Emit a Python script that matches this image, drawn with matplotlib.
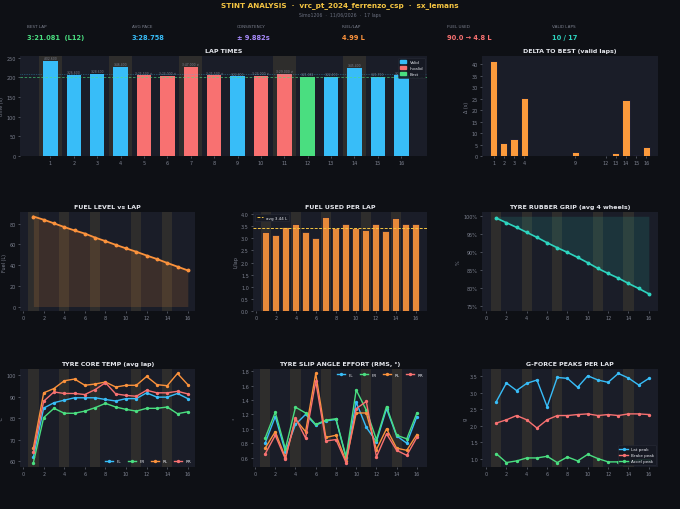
import matplotlib
matplotlib.use("Agg")
import matplotlib.pyplot as plt
from matplotlib.patches import Patch
from matplotlib.ticker import FuncFormatter

# ---- data ----
laps = list(range(1, 17))
lap_times = [242.6, 206.6, 208.6, 226.4, 205.5, 204.0, 227.0, 205.5,
             202.8, 204.0, 209.0, 201.081, 202.4, 225.4, 201.7, 205.2]
lap_valid = [True, True, True, True, False, False, False, False,
             True, False, False, True, True, True, True, True]
best_lap = 12
best_time = 201.081
avg_pace = 208.758

delta_laps = [1, 2, 3, 4, 9, 12, 13, 14, 15, 16]
delta_vals = [41.5, 5.5, 7.5, 25.3, 1.7, 0.0, 1.3, 24.3, 0.6, 4.1]

fuel_level = [87.0, 83.9, 80.4, 76.8, 73.5, 70.5, 66.6, 63.2,
              59.6, 56.2, 52.9, 49.3, 45.9, 42.1, 38.5, 34.9]
fuel_used = [3.27, 3.13, 3.45, 3.61, 3.27, 3.02, 3.89, 3.43,
             3.57, 3.41, 3.35, 3.60, 3.32, 3.82, 3.61, 3.57]
fuel_avg = 3.44

grip = [99.5, 98.2, 96.9, 95.5, 94.1, 92.6, 91.2, 89.9,
        88.5, 87.0, 85.4, 84.0, 82.7, 81.2, 79.8, 78.3]

temp_fl = [62.0, 84.8, 87.3, 88.5, 89.6, 89.6, 89.6, 88.8, 88.1, 89.2, 89.2, 91.9, 89.9, 89.9, 91.6, 89.2]
temp_fr = [59.5, 80.4, 84.7, 82.4, 82.4, 83.4, 85.0, 87.0, 85.3, 84.2, 83.4, 84.7, 84.7, 85.3, 82.2, 83.1]
temp_rl = [66.3, 91.9, 93.9, 97.5, 98.3, 95.4, 96.0, 96.9, 94.6, 95.4, 95.4, 99.5, 95.7, 95.2, 100.9, 95.7]
temp_rr = [64.3, 88.0, 92.3, 91.6, 91.6, 91.1, 93.4, 96.6, 91.4, 90.7, 90.3, 93.1, 91.9, 91.9, 92.6, 91.4]

slip_fl = [0.80, 1.17, 0.68, 1.06, 1.20, 1.05, 1.11, 1.13, 0.60, 1.37, 1.02, 0.82, 1.28, 0.90, 0.80, 1.17]
slip_fr = [0.87, 1.23, 0.72, 1.30, 1.22, 1.06, 1.12, 1.14, 0.61, 1.54, 1.26, 0.85, 1.31, 0.91, 0.86, 1.22]
slip_rl = [0.73, 0.96, 0.60, 1.13, 0.96, 1.77, 0.88, 0.91, 0.55, 1.22, 1.22, 0.71, 1.00, 0.73, 0.70, 0.92]
slip_rr = [0.65, 0.91, 0.58, 1.15, 0.87, 1.66, 0.83, 0.85, 0.53, 1.28, 1.38, 0.61, 0.93, 0.70, 0.63, 0.88]

g_lat = [2.73, 3.30, 3.07, 3.29, 3.39, 2.58, 3.47, 3.44, 3.17, 3.52, 3.39, 3.32, 3.59, 3.45, 3.24, 3.44]
g_brake = [2.08, 2.18, 2.31, 2.18, 1.93, 2.18, 2.31, 2.31, 2.34, 2.36, 2.31, 2.34, 2.31, 2.36, 2.36, 2.34]
g_accel = [1.15, 0.88, 0.93, 1.02, 1.02, 1.07, 0.88, 1.05, 0.93, 1.13, 1.00, 0.90, 0.90, 0.90, 0.97, 0.97]

band_laps = [1, 4, 7, 11, 14]

kpi_labels = ["BEST LAP", "AVG PACE", "CONSISTENCY", "FUEL/LAP", "FUEL USED", "VALID LAPS"]
kpi_values = ["3:21.081  (L12)", "3:28.758", "\u00b1 9.882s", "4.99 L", "90.0 \u2192 4.8 L", "10 / 17"]

# ---- style ----
BG = "#0e1015"
AX_BG = "#1a1d28"
TXT = "#e6e8ee"
TICK = "#7d8290"
BLUE = "#38bdf8"
RED = "#f87171"
GREEN = "#4ade80"
ORANGE = "#fb923c"
BAR_OR = "#e88a3a"
TEAL = "#2dd4bf"
PURPLE = "#a78bfa"
GOLD = "#f5c542"
kpi_colors = [GREEN, BLUE, PURPLE, ORANGE, RED, TEAL]

W, H = 680, 510
fig = plt.figure(figsize=(6.8, 5.1), dpi=100, facecolor=BG)


def add_ax(x0, y0, x1, y1):
    ax = fig.add_axes([x0 / W, 1 - y1 / H, (x1 - x0) / W, (y1 - y0) / H])
    ax.set_facecolor(AX_BG)
    for s in ax.spines.values():
        s.set_visible(False)
    ax.tick_params(colors=TICK, labelsize=3.5, length=1.5, width=0.4, pad=1.5)
    return ax


def style(ax, title, ylabel):
    ax.set_title(title, color=TXT, fontsize=4.5, fontweight="bold", pad=3)
    ax.set_ylabel(ylabel, color=TICK, fontsize=3.5, labelpad=2)


def bands(ax):
    for b in band_laps:
        ax.axvspan(b - 0.5, b + 0.5, color="#b89a4a", alpha=0.13, lw=0, zorder=0)


def fmt_lap(t):
    m = int(t // 60)
    return f"{m}:{t - 60 * m:06.3f}"


def small_legend(ax, **kw):
    leg = ax.legend(fontsize=3, facecolor="#161923", edgecolor="#2a2e3a",
                    labelcolor=TXT, framealpha=0.9, **kw)
    leg.get_frame().set_linewidth(0.4)
    return leg


# ---- header ----
fig.text(0.5, 1 - 6 / H, "STINT ANALYSIS  \u00b7  vrc_pt_2024_ferrenzo_csp  \u00b7  sx_lemans",
         ha="center", va="center", color=GOLD, fontsize=5.2, fontweight="bold")
fig.text(0.5, 1 - 16 / H, "Simo1206  \u00b7  11/06/2026  \u00b7  17 laps",
         ha="center", va="center", color="#6b7080", fontsize=3.3)
for i, (lab, val) in enumerate(zip(kpi_labels, kpi_values)):
    x = (27 + 105 * i) / W
    fig.text(x, 1 - 27 / H, lab, ha="left", va="center", color="#7d8290", fontsize=3)
    fig.text(x, 1 - 38 / H, val, ha="left", va="center", color=kpi_colors[i],
             fontsize=4.8, fontweight="bold")

# ---- lap times ----
ax = add_ax(20, 57, 427, 157)
bands(ax)
cols = []
for lap, ok in zip(laps, lap_valid):
    if lap == best_lap:
        cols.append(GREEN)
    elif ok:
        cols.append(BLUE)
    else:
        cols.append(RED)
ax.bar(laps, lap_times, width=0.62, color=cols, zorder=2)
for lap, t, ok in zip(laps, lap_times, lap_valid):
    lab = fmt_lap(t) + ("" if ok else " \u2717")
    ax.text(lap, t + 2, lab, ha="center", va="bottom", color=TICK, fontsize=2.2, zorder=3)
ax.axhline(best_time, color=GREEN, lw=0.6, ls=(0, (3, 2)), alpha=0.7, zorder=3)
ax.axhline(avg_pace, color=BLUE, lw=0.5, ls=(0, (1, 1.5)), alpha=0.6, zorder=3)
ax.set_xlim(-0.3, 17.1)
ax.set_xticks(laps)
ax.set_yticks([0, 50, 100, 150, 200, 250])
style(ax, "LAP TIMES", "time (s)")
small_legend(ax, handles=[Patch(color=BLUE, label="Valid"), Patch(color=RED, label="Invalid"),
                          Patch(color=GREEN, label="Best")],
             loc="upper right", handlelength=1.5, handleheight=0.8, borderpad=0.4)

# ---- delta to best ----
ax = add_ax(482, 57, 658, 157)
ax.bar(delta_laps, delta_vals, width=0.7, color="#fb9a3c", edgecolor="#0b1530", lw=0.6, zorder=2)
ax.set_xticks(delta_laps)
ax.set_yticks(range(0, 45, 5))
style(ax, "DELTA TO BEST (valid laps)", "\u0394 (s)")

# ---- fuel level ----
ax = add_ax(20, 213, 195, 312)
bands(ax)
ax.fill_between(laps, fuel_level, 0, color=ORANGE, alpha=0.15, lw=0, zorder=1)
ax.plot(laps, fuel_level, color=ORANGE, lw=1.3, marker="o", ms=1.8, zorder=3)
ax.set_xlim(-0.3, 16.7)
ax.set_xticks(range(0, 17, 2))
ax.set_yticks(range(0, 81, 20))
style(ax, "FUEL LEVEL vs LAP", "Fuel (L)")

# ---- fuel used per lap ----
ax = add_ax(253, 213, 427, 312)
bands(ax)
ax.bar(laps, fuel_used, width=0.7, color=BAR_OR, edgecolor="#0b1530", lw=0.5, zorder=2)
ax.axhline(fuel_avg, color=GOLD, lw=0.7, ls=(0, (3, 1.5)), zorder=3, label=f"avg {fuel_avg:.2f} L")
ax.set_xticks(range(0, 17, 2))
ax.set_yticks([i * 0.5 for i in range(9)])
ax.yaxis.set_major_formatter(FuncFormatter(lambda v, p: f"{v:.1f}"))
style(ax, "FUEL USED PER LAP", "L/lap")
small_legend(ax, loc="upper left", handlelength=1.5)

# ---- tyre rubber grip ----
ax = add_ax(482, 213, 658, 312)
bands(ax)
ax.fill_between(laps, grip, 100, color=TEAL, alpha=0.13, lw=0, zorder=1)
ax.plot(laps, grip, color=TEAL, lw=1.2, marker="o", ms=1.8, zorder=3)
ax.set_xlim(-0.4, 16.9)
ax.set_ylim(73.5, 101.2)
ax.set_xticks(range(0, 17, 2))
ax.set_yticks(range(75, 101, 5))
ax.yaxis.set_major_formatter(FuncFormatter(lambda v, p: f"{v:.0f}%"))
style(ax, "TYRE RUBBER GRIP (avg 4 wheels)", "%")

# ---- tyre core temp ----
ax = add_ax(20, 370, 195, 468)
bands(ax)
for ys, c, lab in [(temp_fl, BLUE, "FL"), (temp_fr, GREEN, "FR"),
                   (temp_rl, ORANGE, "RL"), (temp_rr, RED, "RR")]:
    ax.plot(laps, ys, color=c, lw=1.0, marker="o", ms=1.4, label=lab, zorder=3)
ax.set_xlim(-0.3, 16.7)
ax.set_xticks(range(0, 17, 2))
ax.set_yticks(range(60, 101, 10))
style(ax, "TYRE CORE TEMP (avg lap)", "\u00b0C")
small_legend(ax, loc="lower right", ncol=4, handlelength=2, columnspacing=1.5, frameon=False)

# ---- tyre slip angle ----
ax = add_ax(253, 370, 427, 468)
bands(ax)
for ys, c, lab in [(slip_fl, BLUE, "FL"), (slip_fr, GREEN, "FR"),
                   (slip_rl, ORANGE, "RL"), (slip_rr, RED, "RR")]:
    ax.plot(laps, ys, color=c, lw=1.0, marker="o", ms=1.4, label=lab, zorder=3)
ax.set_xlim(-0.2, 17.0)
ax.set_xticks(range(0, 17, 2))
ax.set_yticks([0.6, 0.8, 1.0, 1.2, 1.4, 1.6, 1.8])
ax.yaxis.set_major_formatter(FuncFormatter(lambda v, p: f"{v:.1f}"))
style(ax, "TYRE SLIP ANGLE EFFORT (RMS, \u00b0)", "\u00b0")
small_legend(ax, loc="upper right", ncol=4, handlelength=2, columnspacing=1.5, frameon=False)

# ---- g-force peaks ----
ax = add_ax(482, 370, 658, 468)
bands(ax)
for ys, c, lab in [(g_lat, BLUE, "Lat peak"), (g_brake, RED, "Brake peak"),
                   (g_accel, GREEN, "Accel peak")]:
    ax.plot(laps, ys, color=c, lw=1.0, marker="o", ms=1.4, label=lab, zorder=3)
ax.set_xlim(-0.4, 16.9)
ax.set_xticks(range(0, 17, 2))
ax.set_yticks([1.0, 1.5, 2.0, 2.5, 3.0, 3.5])
ax.yaxis.set_major_formatter(FuncFormatter(lambda v, p: f"{v:.1f}"))
style(ax, "G-FORCE PEAKS PER LAP", "g")
small_legend(ax, loc="lower right", handlelength=2)

fig.savefig("out.png", dpi=100, facecolor=BG)
